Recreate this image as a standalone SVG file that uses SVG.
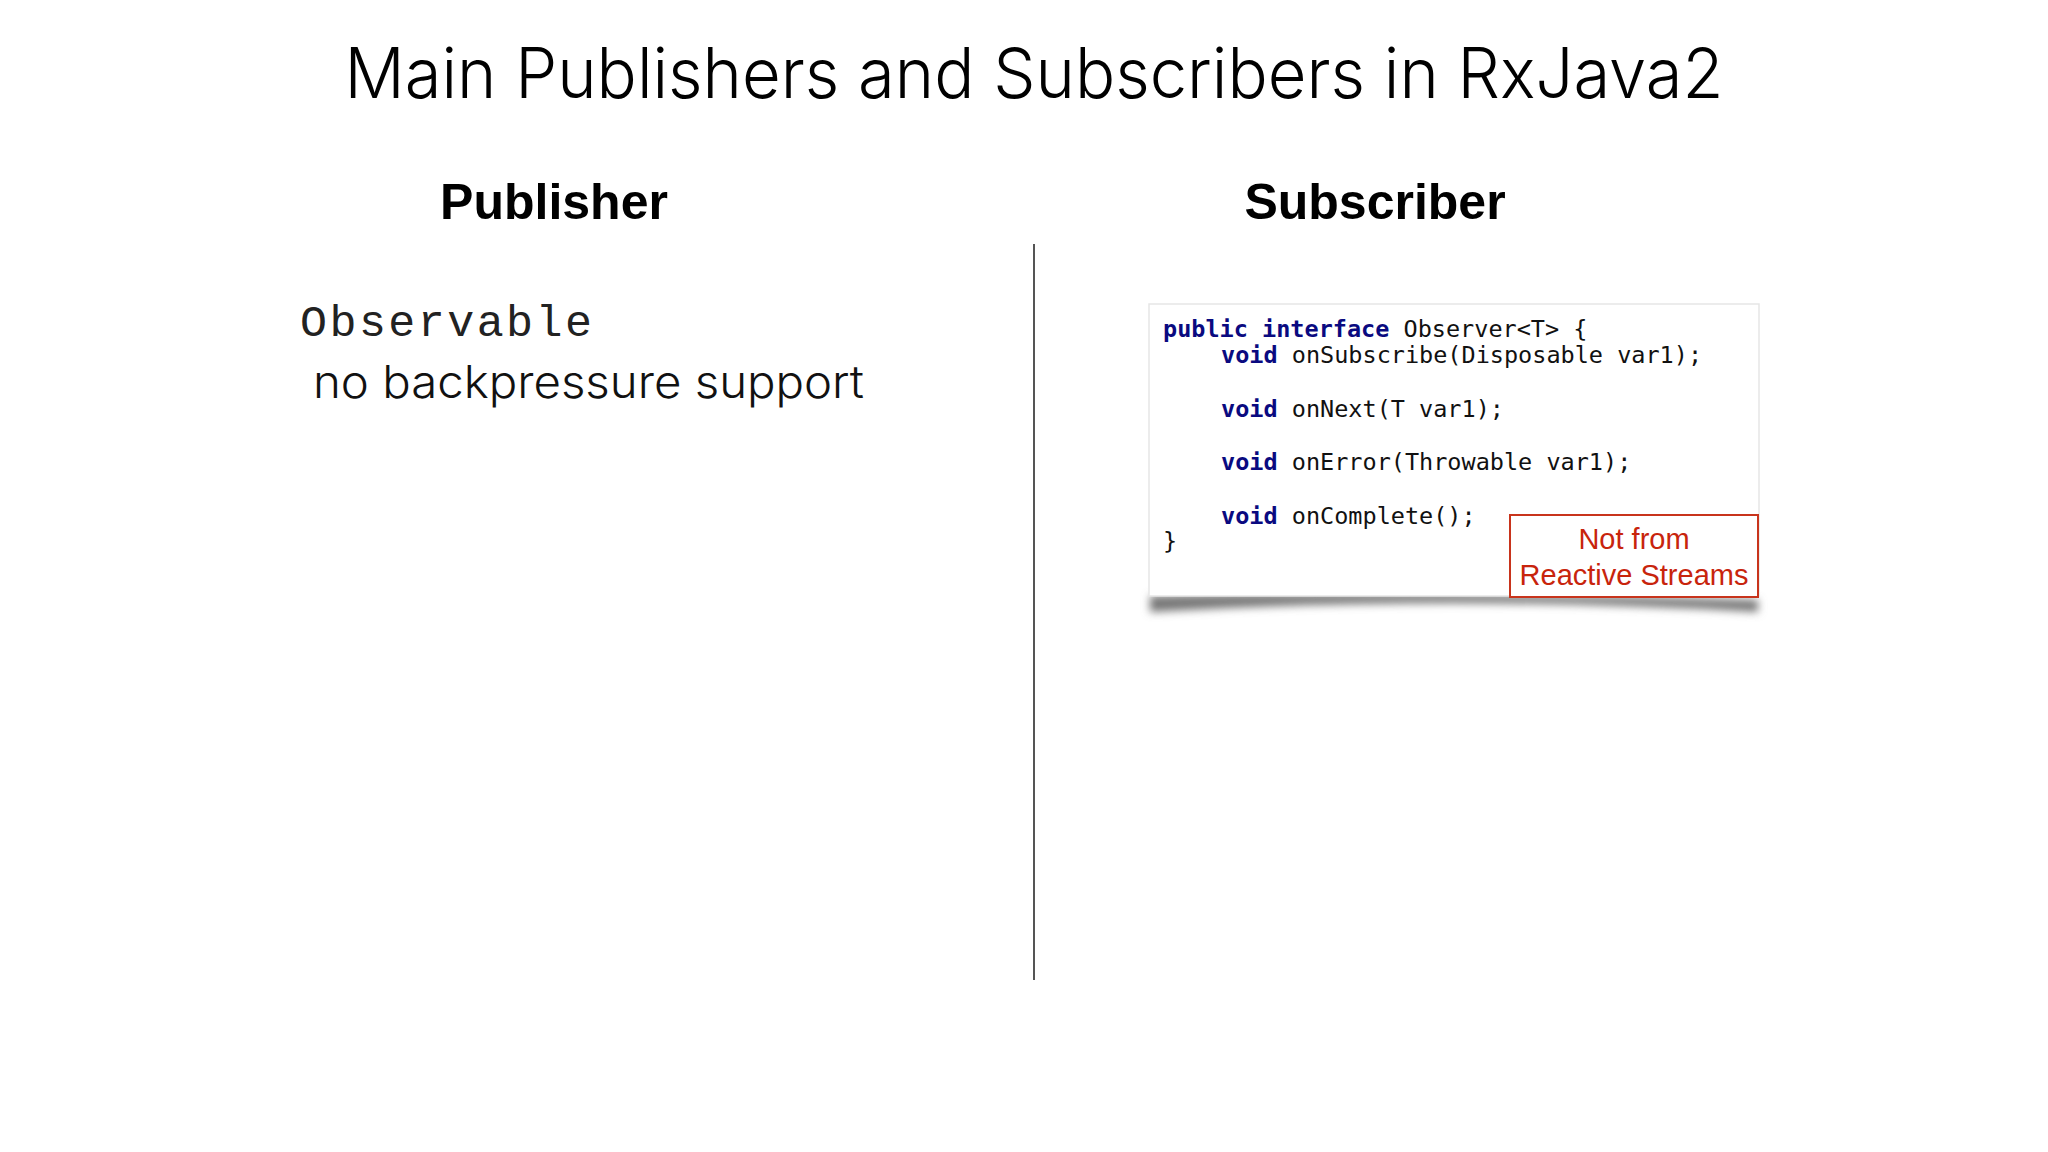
<svg xmlns="http://www.w3.org/2000/svg" width="2048" height="1152" viewBox="0 0 2048 1152">
<style>
.code{font-family:"DejaVu Sans Mono",monospace;font-size:23.5px;fill:#111}
.kw{fill:#0a0a80;font-weight:bold}
.h{font-family:"Liberation Sans",Arial,sans-serif;font-weight:bold;font-size:50px;fill:#000;text-anchor:middle}
.red{font-family:"Liberation Sans",Arial,sans-serif;font-size:29px;fill:#c8240c;text-anchor:middle}
</style>
<defs>
<filter id="blur" x="-10%" y="-100%" width="120%" height="300%"><feGaussianBlur stdDeviation="4"/></filter>
</defs>
<rect width="2048" height="1152" fill="#fff"/>
<text x="1034" y="98" text-anchor="middle" font-family="Inter, 'Liberation Sans', sans-serif" font-weight="300" font-size="70" textLength="1379" lengthAdjust="spacingAndGlyphs">Main Publishers and Subscribers in RxJava2</text>
<g id="publisher">
<text class="h" x="554" y="219">Publisher</text>
<text x="300" y="336" font-family="'Liberation Mono',monospace" font-size="45" textLength="292" fill="#222">Observable</text>
<text x="313" y="398" font-family="Inter,'Liberation Sans',sans-serif" font-weight="300" font-size="45" textLength="551" lengthAdjust="spacingAndGlyphs" fill="#111">no backpressure support</text>
</g>
<g id="connectors"><line x1="1034" y1="244" x2="1034" y2="980" stroke="#555" stroke-width="2"/></g>
<g id="subscriber">
<text class="h" x="1375" y="219">Subscriber</text>
<path d="M1150 596 Q1400 590 1758 600 L1758 612 Q1450 594 1150 612 Z" fill="#777" filter="url(#blur)"/>
<rect x="1149" y="304" width="610" height="292" fill="#fff" stroke="#e6e6e6" stroke-width="1.5"/>
<text class="code" x="1163" y="337"><tspan class="kw">public interface</tspan> Observer&lt;T&gt; {</text>
<text class="code" x="1221" y="363"><tspan class="kw">void</tspan> onSubscribe(Disposable var1);</text>
<text class="code" x="1221" y="417"><tspan class="kw">void</tspan> onNext(T var1);</text>
<text class="code" x="1221" y="470"><tspan class="kw">void</tspan> onError(Throwable var1);</text>
<text class="code" x="1221" y="524"><tspan class="kw">void</tspan> onComplete();</text>
<text class="code" x="1163" y="549">}</text>
</g>
<g id="note">
<rect x="1510" y="515" width="248" height="82" fill="#fff" stroke="#c8341c" stroke-width="2"/>
<text class="red" x="1634" y="549">Not from</text>
<text class="red" x="1634" y="585">Reactive Streams</text>
</g>
</svg>
